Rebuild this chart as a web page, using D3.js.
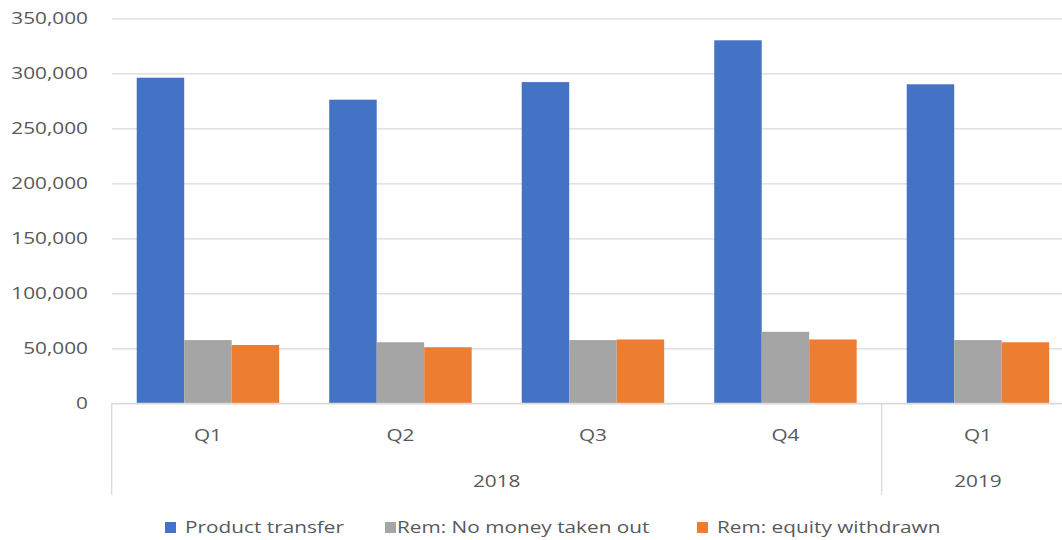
<!DOCTYPE html>
<html>
<head>
<meta charset="utf-8">
<script src="https://cdn.jsdelivr.net/npm/d3@7"></script>
<style>
  body { margin: 0; background: #fff; }
  text { font-family: "Open Sans", sans-serif; fill: #595959; }
  .grid line { stroke: #d9d9d9; stroke-width: 1.3; }
  .grid path { display: none; }
</style>
</head>
<body>
<div id="chart"></div>
<script>
// chart data
var quarters = ["Q1", "Q2", "Q3", "Q4", "Q1"];
var years = ["2018", "2018", "2018", "2018", "2019"];
var seriesNames = ["Product transfer", "Rem: No money taken out", "Rem: equity withdrawn"];
var productTransfer = [296000, 276000, 292000, 330000, 290000];
var noMoneyTakenOut = [57500, 55500, 57500, 65000, 57500];
var equityWithdrawn = [53000, 51000, 58000, 58000, 55500];
var yTicks = [0, 50000, 100000, 150000, 200000, 250000, 300000, 350000];

var colors = ["#4472c4", "#a5a5a5", "#ed7d31"];
var series = [productTransfer, noMoneyTakenOut, equityWithdrawn];

var W = 1062, H = 540;
var margin = {top: 18.3, left: 111.7},
    plotW = 962.5,
    plotBottom = 403.3;
var sx = 1.3; // source picture is stretched sideways

var svg = d3.select("#chart").append("svg")
    .attr("width", W)
    .attr("height", H);

var idx = d3.range(quarters.length);

var x = d3.scaleBand().domain(idx).range([margin.left, margin.left + plotW])
    .paddingInner(0.26).paddingOuter(0.13);
var xs = d3.scaleBand().domain(d3.range(series.length)).range([0, x.bandwidth()]);
var y = d3.scaleLinear().domain([0, 350000]).range([plotBottom, margin.top]);

// stretched text helper
function label(g, px, py, str, anchor) {
  return g.append("text")
      .attr("transform", "scale(" + sx + ",1)")
      .attr("x", px / sx)
      .attr("y", py)
      .attr("text-anchor", anchor || "middle")
      .style("font-size", "16px")
      .text(str);
}

//grid
svg.append("g")
    .attr("class", "grid")
    .attr("transform", "translate(" + margin.left + ",0)")
    .call(d3.axisLeft(y).tickValues(yTicks).tickSize(-(W - margin.left)).tickFormat(""));

//y labels
var yl = svg.append("g");
yTicks.forEach(function(t) {
  label(yl, margin.left - 23.7, y(t), d3.format(",")(t), "end").attr("dy", "0.35em");
});

//bars
series.forEach(function(vals, s) {
  svg.append("g").selectAll("rect")
      .data(idx)
      .enter().append("rect")
      .attr("x", function(i) { return x(i) + xs(s); })
      .attr("width", xs.bandwidth())
      .attr("y", function(i) { return y(vals[i]); })
      .attr("height", function(i) { return plotBottom - y(vals[i]); })
      .attr("fill", colors[s]);
});

//x axis lines
var ax = svg.append("g").attr("stroke", "#d9d9d9").attr("stroke-width", 1.3);
ax.append("line")
    .attr("x1", margin.left).attr("x2", W)
    .attr("y1", plotBottom).attr("y2", plotBottom);
var step = x.step();
var yearBounds = [0, 4, 5];
yearBounds.forEach(function(b) {
  var bx = margin.left + b * step;
  ax.append("line")
      .attr("x1", bx).attr("x2", bx)
      .attr("y1", plotBottom).attr("y2", 495);
});

// quarter + year labels
var xl = svg.append("g");
idx.forEach(function(i) {
  label(xl, x(i) + x.bandwidth() / 2, 441, quarters[i]);
});
var yearGroups = d3.groups(idx, function(i) { return years[i]; });
yearGroups.forEach(function(gp) {
  var first = gp[1][0], last = gp[1][gp[1].length - 1];
  var cx = margin.left + (first + last + 1) / 2 * step;
  label(xl, cx, 487, gp[0]);
});

//legend
var legX = [165, 385, 697];
var leg = svg.append("g");
seriesNames.forEach(function(n, s) {
  leg.append("rect")
      .attr("x", legX[s]).attr("y", 522)
      .attr("width", 11).attr("height", 11)
      .attr("fill", colors[s]);
  label(leg, legX[s] + (s == 1 ? 12 : 20), 533, n, "start");
});
</script>
</body>
</html>
